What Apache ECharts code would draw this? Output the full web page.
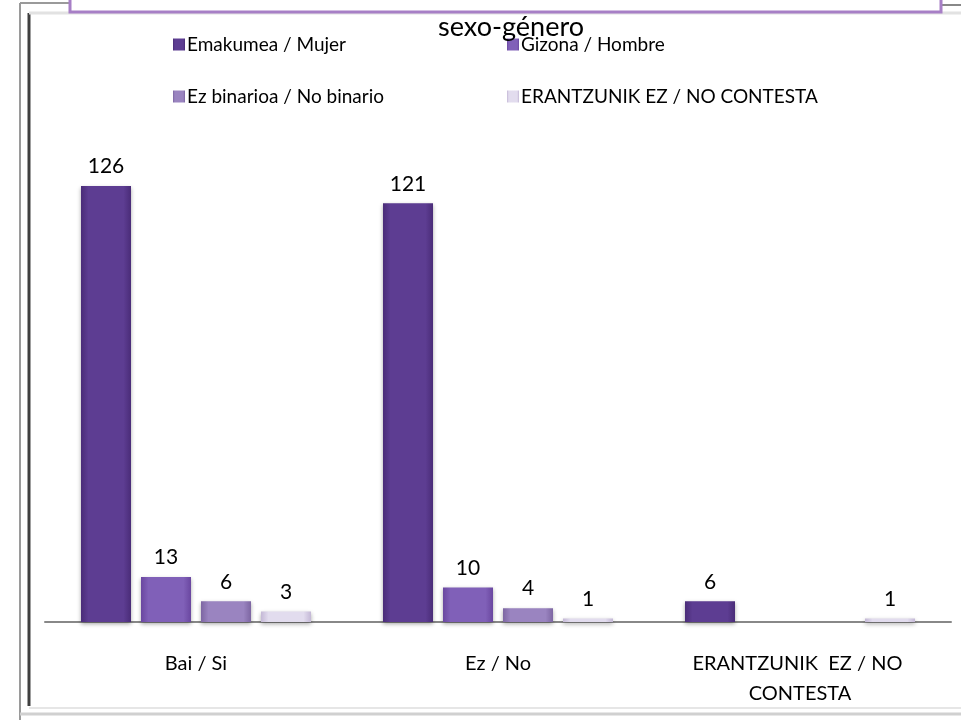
<!DOCTYPE html>
<html>
<head>
<meta charset="utf-8">
<script src="https://cdn.jsdelivr.net/npm/echarts@6/dist/echarts.min.js"></script>
<style>html,body{margin:0;padding:0;background:#fff}#c{width:961px;height:720px}</style>
</head>
<body>
<div id="c"></div>
<script>
const titleText = 'sexo-género';
const categories = ['Bai / Si', 'Ez / No', 'ERANTZUNIK  EZ / NO CONTESTA'];
const seriesNames = ['Emakumea / Mujer', 'Gizona / Hombre', 'Ez binarioa / No binario', 'ERANTZUNIK EZ / NO CONTESTA'];
const mujer = [126, 121, 6];
const hombre = [13, 10, null];
const noBinario = [6, 4, null];
const noContesta = [3, 1, 1];
const seriesValues = [mujer, hombre, noBinario, noContesta];

const FONT = 'Lato';
const colors = [
  ['#4a2c78', '#5d3d92', '#4a2c78'],
  ['#6a47a0', '#8060b8', '#6a47a0'],
  ['#7d66a2', '#9a84c0', '#7d66a2'],
  ['#c4b8d6', '#e2dcee', '#c4b8d6']
];
function grad(c){
  return {type:'linear',x:0,y:0,x2:1,y2:0,colorStops:[
    {offset:0,color:c[0]},{offset:0.15,color:c[1]},{offset:0.85,color:c[1]},{offset:1,color:c[2]}]};
}
const legendPos = [
  {left:168, top:30},
  {left:502, top:30},
  {left:168, top:82},
  {left:502, top:82}
];

const chart = echarts.init(document.getElementById('c'), null, {renderer:'canvas'});
chart.setOption({
  animation:false,
  backgroundColor:'#fff',
  title:{text:titleText,left:506,top:9,textAlign:'center',
    textStyle:{fontFamily:FONT,fontSize:27,fontWeight:'normal',color:'#000'}},
  legend: seriesNames.map((n,i)=>({
    data:[n], left:legendPos[i].left, top:legendPos[i].top, icon:'rect',
    itemWidth:12, itemHeight:12, itemGap:4,
    textStyle:{fontFamily:FONT,fontSize:19,color:'#000',padding:[0,0,0,-3]},
    selectedMode:false
  })),
  grid:{left:45,right:10,top:103,bottom:98},
  xAxis:{type:'category',data:categories,
    axisLine:{lineStyle:{color:'#888',width:2}},
    axisTick:{show:false},
    axisLabel:{fontFamily:FONT,fontSize:20,color:'#000',margin:27,width:240,overflow:'break',lineHeight:30,interval:0}},
  yAxis:{type:'value',min:0,max:150,show:false,splitLine:{show:false}},
  series: seriesNames.map((n,i)=>({
    name:n,type:'bar',data:seriesValues[i],
    barWidth:50,barGap:'20%',
    itemStyle:{color:grad(colors[i]),shadowColor:'rgba(0,0,0,0.35)',shadowBlur:4,shadowOffsetY:2},
    label:{show:true,position:'top',distance:9,fontFamily:FONT,fontSize:21,color:'#000'}
  })),
  graphic:[
    {type:'rect',shape:{x:70,y:-10,width:871,height:22},style:{fill:'#fff',stroke:'#a77fc6',lineWidth:3},z:10},
    {type:'line',shape:{x1:20,y1:3,x2:20,y2:720},style:{stroke:'#9a9a9a',lineWidth:2}},
    {type:'line',shape:{x1:20,y1:3,x2:70,y2:3},style:{stroke:'#9a9a9a',lineWidth:2}},
    {type:'line',shape:{x1:941,y1:5,x2:961,y2:5},style:{stroke:'#888',lineWidth:2}},
    {type:'line',shape:{x1:29,y1:13,x2:29,y2:706},style:{stroke:'#404040',lineWidth:3}},
    {type:'line',shape:{x1:29,y1:13,x2:961,y2:13},style:{stroke:'#e2e2e2',lineWidth:3}},
    {type:'line',shape:{x1:29,y1:708,x2:961,y2:708},style:{stroke:'#e6e6e6',lineWidth:2}},
    {type:'line',shape:{x1:20,y1:714,x2:961,y2:714},style:{stroke:'#d0d0d0',lineWidth:3}}
  ]
});
</script>
</body>
</html>
